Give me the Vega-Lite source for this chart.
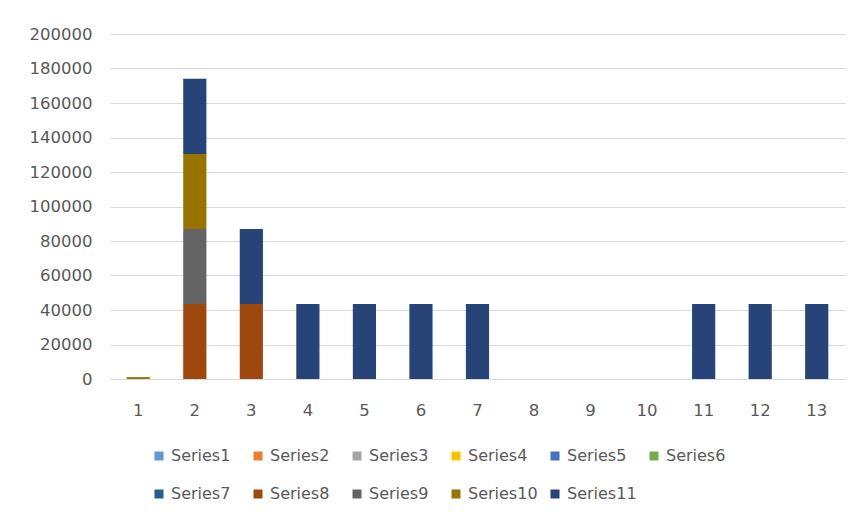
{
  "$schema": "https://vega.github.io/schema/vega-lite/v6.json",
  "width": 735,
  "height": 345,
  "autosize": "none",
  "padding": {"left": 110, "top": 34, "right": 15, "bottom": 146},
  "background": "white",
  "config": {
    "view": {"stroke": null},
    "font": "DejaVu Sans",
    "axis": {"labelFont": "DejaVu Sans", "labelColor": "#595959", "labelFontSize": 16.5, "titleFont": "DejaVu Sans"},
    "legend": {"labelFont": "DejaVu Sans", "labelColor": "#595959", "labelFontSize": 16}
  },
  "data": {
    "values": [
      {"x": 1, "series": "Series10", "n": 10, "value": 1100},
      {"x": 2, "series": "Series8", "n": 8, "value": 43500},
      {"x": 2, "series": "Series9", "n": 9, "value": 43500},
      {"x": 2, "series": "Series10", "n": 10, "value": 43500},
      {"x": 2, "series": "Series11", "n": 11, "value": 43500},
      {"x": 3, "series": "Series8", "n": 8, "value": 43500},
      {"x": 3, "series": "Series11", "n": 11, "value": 43500},
      {"x": 4, "series": "Series11", "n": 11, "value": 43500},
      {"x": 5, "series": "Series11", "n": 11, "value": 43500},
      {"x": 6, "series": "Series11", "n": 11, "value": 43500},
      {"x": 7, "series": "Series11", "n": 11, "value": 43500},
      {"x": 11, "series": "Series11", "n": 11, "value": 43500},
      {"x": 12, "series": "Series11", "n": 11, "value": 43500},
      {"x": 13, "series": "Series11", "n": 11, "value": 43500}
    ]
  },
  "mark": {"type": "bar"},
  "encoding": {
    "x": {
      "field": "x",
      "type": "ordinal",
      "scale": {"domain": [1,2,3,4,5,6,7,8,9,10,11,12,13], "paddingInner": 0.59, "paddingOuter": 0.295},
      "axis": {"title": null, "labelAngle": 0, "ticks": false, "domainColor": "#D9D9D9", "domainWidth": 1, "labelPadding": 23}
    },
    "y": {
      "field": "value",
      "type": "quantitative",
      "stack": "zero",
      "scale": {"domain": [0, 200000], "nice": false},
      "axis": {"title": null, "values": [0,20000,40000,60000,80000,100000,120000,140000,160000,180000,200000], "format": "d", "ticks": false, "domain": false, "gridColor": "#D9D9D9", "gridWidth": 1, "labelPadding": 18}
    },
    "color": {
      "field": "series",
      "type": "nominal",
      "scale": {
        "domain": ["Series1","Series2","Series3","Series4","Series5","Series6","Series7","Series8","Series9","Series10","Series11"],
        "range": ["#5B9BD5","#ED7D31","#A5A5A5","#FFC000","#4472C4","#70AD47","#255E91","#9E480E","#636363","#997300","#264478"]
      },
      "legend": {
        "title": null,
        "orient": "none",
        "legendX": 41,
        "legendY": 414,
        "direction": "horizontal",
        "columns": 6,
        "gridAlign": "all",
        "symbolType": "square",
        "symbolSize": 81,
        "symbolStrokeWidth": 0,
        "labelOffset": 4,
        "columnPadding": 9,
        "rowPadding": 22
      }
    },
    "order": {"field": "n", "type": "quantitative", "sort": "ascending"}
  }
}
